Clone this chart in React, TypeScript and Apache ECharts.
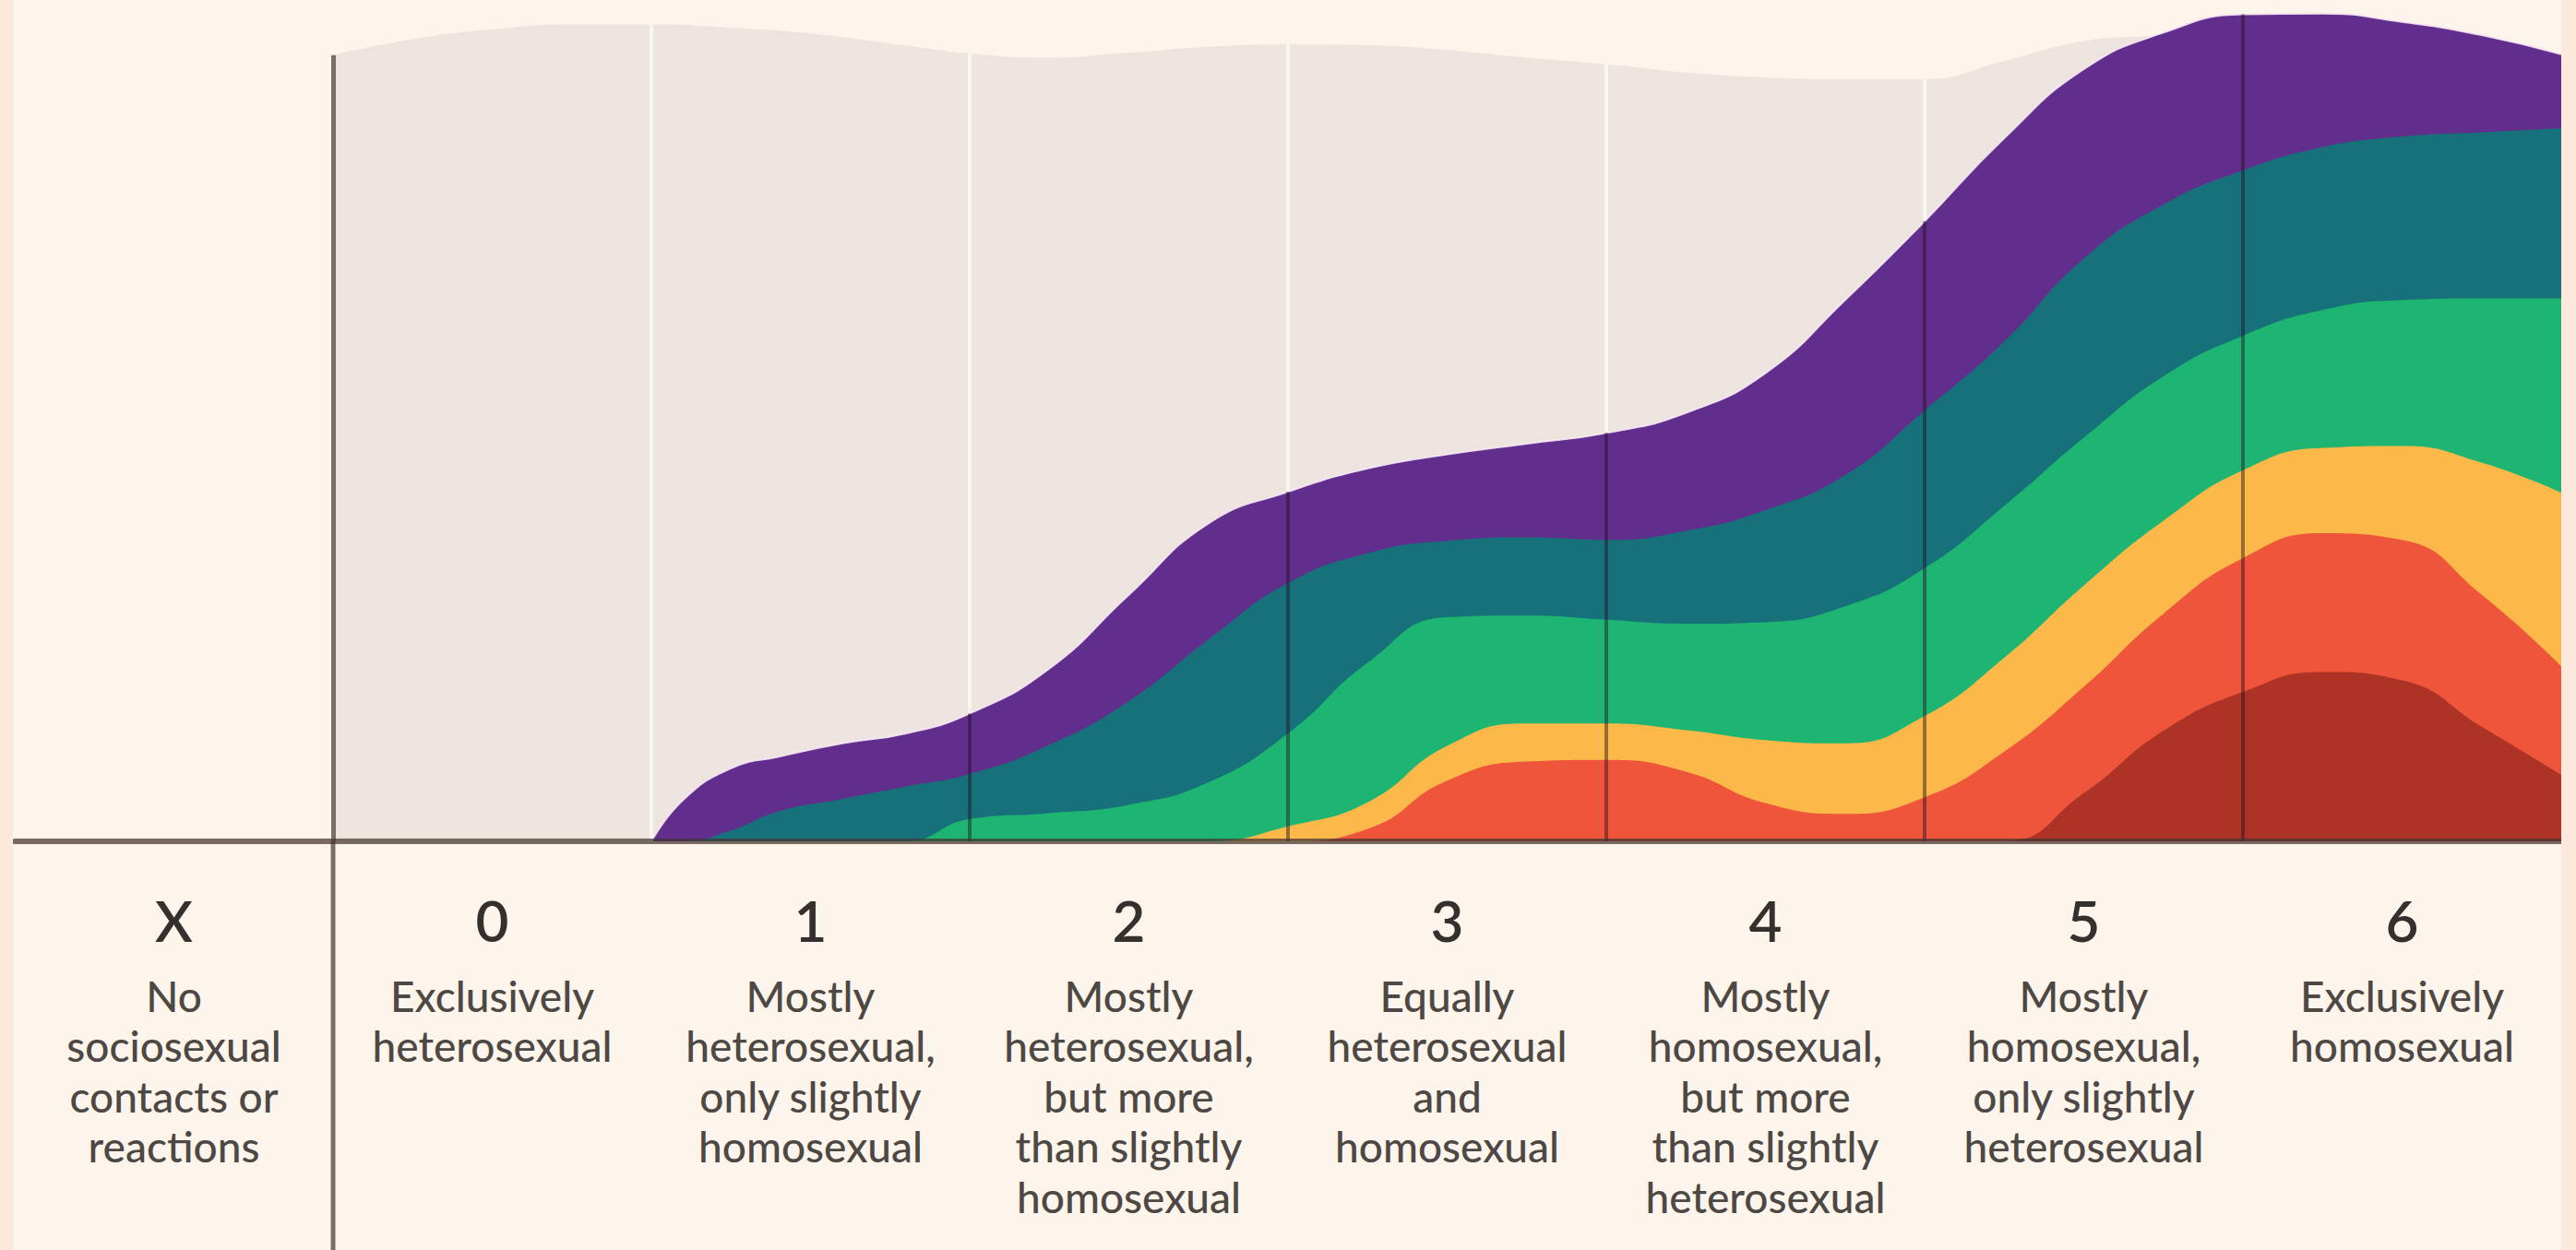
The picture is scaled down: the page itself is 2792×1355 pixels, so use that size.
import React, { useEffect, useRef } from "react";
import * as echarts from "echarts";

// ---- Data ----
const categories = ["X", "0", "1", "2", "3", "4", "5", "6"];
const descriptions = [
  "No\nsociosexual\ncontacts or\nreactions",
  "Exclusively\nheterosexual",
  "Mostly\nheterosexual,\nonly slightly\nhomosexual",
  "Mostly\nheterosexual,\nbut more\nthan slightly\nhomosexual",
  "Equally\nheterosexual\nand\nhomosexual",
  "Mostly\nhomosexual,\nbut more\nthan slightly\nheterosexual",
  "Mostly\nhomosexual,\nonly slightly\nheterosexual",
  "Exclusively\nhomosexual",
];

// background silhouette (gray)
const grayX = [0, 0.25, 0.5, 0.75, 1, 1.25, 1.5, 1.75, 2, 2.25, 2.5, 2.75, 3, 3.25, 3.5, 3.75, 4, 4.25, 4.5, 4.75, 5, 5.25, 5.5, 5.75, 6, 6.25, 6.5, 6.75, 7];
const grayTop = [94.7, 96.6, 97.8, 98.4, 98.4, 98.0, 97.3, 96.1, 94.9, 94.4, 95.0, 95.7, 96.0, 95.9, 95.3, 94.4, 93.6, 92.6, 92.0, 91.8, 91.8, 94.0, 96.4, 97.2, 98.8, 98.8, 97.6, 95.8, 93.5];

// colored layers: cumulative top of each band
const layerX = [1, 1.1, 1.25, 1.4, 1.6, 1.8, 2, 2.25, 2.5, 2.75, 3, 3.25, 3.5, 3.75, 4, 4.25, 4.5, 4.75, 5, 5.25, 5.5, 5.75, 6, 6.25, 6.5, 6.75, 7];
const purpleTop = [0, 5.0, 8.8, 10.2, 11.8, 13.0, 15.4, 20.8, 29.7, 38.3, 42.1, 44.9, 46.6, 47.9, 49.2, 51.6, 56.4, 65.2, 74.7, 84.7, 93.0, 97.4, 99.6, 99.7, 98.7, 97.1, 94.8];
const tealTop = [0, 0, 1.3, 3.6, 5.1, 6.6, 8.1, 11.6, 16.9, 24.3, 31.1, 34.7, 36.2, 36.6, 36.3, 37.4, 39.9, 44.1, 51.9, 60.2, 70.2, 76.7, 80.8, 83.6, 84.9, 85.4, 85.9];
const greenTop = [0, 0, 0, 0, 0, 0, 2.7, 3.4, 4.4, 7.1, 13.0, 21.5, 27.0, 27.2, 26.7, 26.2, 26.4, 28.3, 32.9, 40.4, 48.6, 56.0, 60.9, 64.0, 65.2, 65.4, 65.4];
const yellowTop = [0, 0, 0, 0, 0, 0, 0, 0, 0, 0, 1.8, 4.7, 11.5, 14.2, 14.2, 13.4, 12.2, 11.8, 15.1, 22.1, 30.8, 38.6, 44.7, 47.4, 47.6, 45.6, 42.0];
const orangeTop = [0, 0, 0, 0, 0, 0, 0, 0, 0, 0, 0, 1.5, 7.3, 9.6, 9.8, 8.4, 4.6, 3.3, 5.3, 10.8, 18.6, 27.4, 34.1, 37.1, 36.3, 29.7, 21.1];
const darkRedTop = [0, 0, 0, 0, 0, 0, 0, 0, 0, 0, 0, 0, 0, 0, 0, 0, 0, 0, 0, 0, 5.8, 13.3, 18.0, 20.4, 19.4, 13.8, 8.0];

const dividers = [1, 2, 3, 4, 5, 6];

function pairs(xs: number[], ys: number[]) {
  return xs.map((x, i) => [x, ys[i]]);
}
function valueAt(xs: number[], ys: number[], x: number) {
  const i = xs.indexOf(x);
  return i >= 0 ? ys[i] : 0;
}

const FONT = "Lato, 'Open Sans', sans-serif";
const CHART_H = 1355;
const GRID_TOP = 12;
const GRID_BOTTOM = 443;
const LEFT_RULE = "#7a706b";

export default function App() {
  const ref = useRef<HTMLDivElement>(null);

  useEffect(() => {
    document.body.style.margin = "0";
    const chart = echarts.init(ref.current!, null, { renderer: "svg" });

    const layers = [
      { name: "purple", data: purpleTop, color: "#612e8d" },
      { name: "teal", data: tealTop, color: "#17717a" },
      { name: "green", data: greenTop, color: "#1eb573" },
      { name: "yellow", data: yellowTop, color: "#fcb848" },
      { name: "orange", data: orangeTop, color: "#ee553a" },
      { name: "darkred", data: darkRedTop, color: "#ac3326" },
    ];

    const whiteLines = dividers
      .filter((d) => valueAt(grayX, grayTop, d) > valueAt(layerX, purpleTop, d))
      .map((d) => [
        { coord: [d, valueAt(layerX, purpleTop, d)] },
        { coord: [d, valueAt(grayX, grayTop, d)] },
      ]);

    const darkLines = dividers
      .filter((d) => valueAt(layerX, purpleTop, d) > 0)
      .map((d) => [
        { coord: [d, 0] },
        { coord: [d, valueAt(layerX, purpleTop, d)] },
      ]);

    const option: any = {
      animation: false,
      backgroundColor: "#fdf5ec",
      textStyle: { fontFamily: FONT },
      grid: {
        left: 2,
        right: 0,
        top: GRID_TOP,
        bottom: GRID_BOTTOM,
        containLabel: false,
        outerBoundsMode: "none",
      },
      xAxis: [
        {
          type: "value",
          min: -1,
          max: 7,
          position: "bottom",
          z: 10,
          axisLine: {
            show: true,
            onZero: false,
            lineStyle: { color: "rgba(66,52,48,0.72)", width: 6 },
          },
          axisTick: { show: false },
          axisLabel: { show: false },
          splitLine: { show: false },
        },
        {
          type: "category",
          data: categories,
          position: "bottom",
          boundaryGap: true,
          axisLine: { show: false, onZero: false },
          axisTick: { show: false },
          splitLine: { show: false },
          axisLabel: {
            interval: 0,
            margin: 30,
            formatter: (value: string, index: number) =>
              `{num|${value}}\n{desc|${descriptions[index]}}`,
            rich: {
              num: {
                fontSize: 62,
                fontWeight: 600,
                lineHeight: 110,
                color: "#34302d",
                fontFamily: FONT,
                align: "center",
              },
              desc: {
                fontSize: 46,
                fontWeight: 500,
                lineHeight: 54.5,
                color: "#4e4844",
                fontFamily: FONT,
                align: "center",
              },
            },
          },
        },
      ],
      yAxis: {
        type: "value",
        min: 0,
        max: 100,
        show: false,
        splitLine: { show: false },
      },
      series: [
        {
          name: "background",
          type: "line",
          xAxisIndex: 0,
          data: pairs(grayX, grayTop),
          smooth: 0.5,
          symbol: "none",
          lineStyle: { width: 0 },
          areaStyle: { color: "#ede4df", opacity: 1 },
          z: 1,
          silent: true,
          markLine: {
            silent: true,
            symbol: ["none", "none"],
            label: { show: false },
            lineStyle: { type: "solid", color: "rgba(255,255,255,0.6)", width: 4 },
            data: [
              ...whiteLines,
              [
                { coord: [0, valueAt(grayX, grayTop, 0)], lineStyle: { color: LEFT_RULE, width: 5 } },
                { coord: [0, 0] },
              ],
            ],
          },
        },
        ...layers.map((l, i) => ({
          name: l.name,
          type: "line",
          xAxisIndex: 0,
          data: pairs(layerX, l.data),
          smooth: 0.5,
          symbol: "none",
          lineStyle:
            i === 0
              ? { width: 2, color: "rgba(248,232,244,0.9)" }
              : { width: 0 },
          areaStyle: { color: l.color, opacity: 1 },
          z: 2,
          silent: true,
          markLine:
            i === layers.length - 1
              ? {
                  silent: true,
                  symbol: ["none", "none"],
                  label: { show: false },
                  lineStyle: { type: "solid", color: "rgba(35,15,30,0.45)", width: 4 },
                  data: darkLines,
                }
              : undefined,
        })),
      ],
    };

    chart.setOption(option);

    // extend the column separator at x = 0 down to the bottom of the page
    const p0 = chart.convertToPixel({ xAxisIndex: 0, yAxisIndex: 0 } as any, [0, 0]) as number[];
    if (p0 && isFinite(p0[0])) {
      chart.setOption({
        graphic: [
          {
            type: "line",
            silent: true,
            z: 5,
            shape: { x1: p0[0], y1: p0[1], x2: p0[0], y2: CHART_H },
            style: { stroke: LEFT_RULE, lineWidth: 5 },
          },
        ],
      });
    }

    return () => chart.dispose();
  }, []);

  return (
    <div
      style={{
        width: 2792,
        height: CHART_H,
        background: "#fde8dc",
        position: "relative",
        overflow: "hidden",
      }}
    >
      <div
        ref={ref}
        style={{ position: "absolute", left: 14, top: 0, width: 2762, height: CHART_H }}
      />
    </div>
  );
}
